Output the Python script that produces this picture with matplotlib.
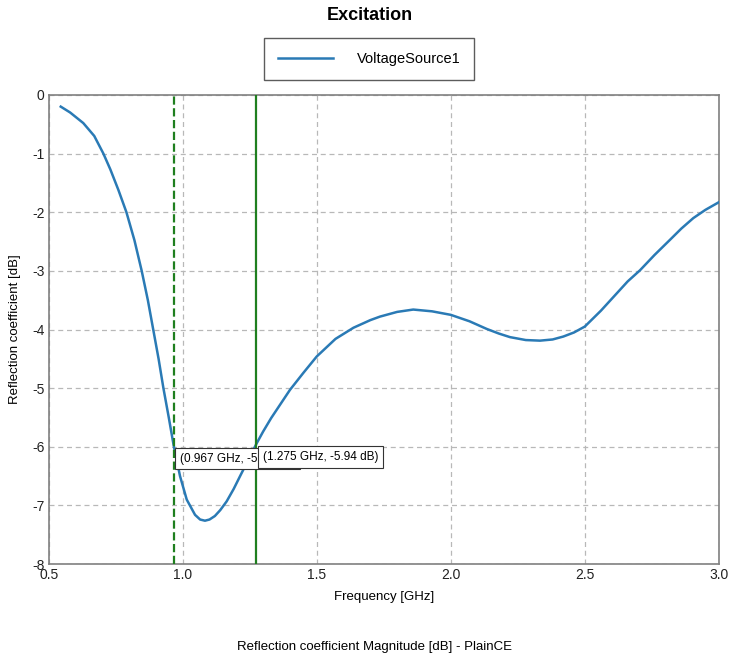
import matplotlib.pyplot as plt

plt.rcParams['font.family'] = ['Liberation Sans', 'DejaVu Sans']
plt.rcParams['axes.unicode_minus'] = False

# frequency [GHz] and reflection coefficient [dB]
freq = [0.545, 0.58, 0.629, 0.67, 0.704, 0.73, 0.76, 0.79, 0.82, 0.847,
        0.870, 0.890, 0.910, 0.928, 0.948, 0.966, 0.99, 1.015, 1.046, 1.065,
        1.083, 1.10, 1.12, 1.14, 1.164, 1.19, 1.214, 1.245, 1.276, 1.30,
        1.33, 1.40, 1.45, 1.5, 1.57, 1.637, 1.70, 1.736, 1.80, 1.86,
        1.93, 2.0, 2.07, 2.134, 2.18, 2.221, 2.28, 2.333, 2.38, 2.42,
        2.46, 2.5, 2.56, 2.62, 2.66, 2.706, 2.76, 2.818, 2.86, 2.905, 2.95, 3.0]
s11 = [-0.20, -0.30, -0.48, -0.70, -1.00, -1.27, -1.62, -2.00, -2.48, -3.00,
       -3.50, -4.00, -4.50, -5.00, -5.50, -5.97, -6.50, -6.90, -7.16, -7.24,
       -7.26, -7.24, -7.18, -7.08, -6.93, -6.72, -6.50, -6.22, -5.94, -5.74,
       -5.51, -5.03, -4.74, -4.46, -4.16, -3.97, -3.84, -3.78, -3.70, -3.66,
       -3.69, -3.75, -3.86, -3.99, -4.07, -4.13, -4.18, -4.19, -4.17, -4.12,
       -4.05, -3.95, -3.68, -3.38, -3.18, -2.99, -2.73, -2.47, -2.28, -2.10, -1.96, -1.83]

marker_f = [0.967, 1.275]
marker_db = [-5.97, -5.94]
marker_style = ['--', '-']

xticks = [0.5, 1.0, 1.5, 2.0, 2.5, 3.0]
yticks = [0, -1, -2, -3, -4, -5, -6, -7, -8]

fig = plt.figure(figsize=(7.32, 6.59), dpi=100)
ax = fig.add_axes([0.0665, 0.144, 0.9155, 0.712])

ax.plot(freq, s11, color='#2a7ab5', lw=1.8, label='VoltageSource1', zorder=3)

for f, ls in zip(marker_f, marker_style):
    ax.axvline(f, color='#1f7f1f', lw=1.6, ls=ls, zorder=4)

for f, db in zip(marker_f, marker_db):
    ax.annotate('(%.3f GHz, %.2f dB)' % (f, db), xy=(f, db), xytext=(4.5, -5.5),
                textcoords='offset points', ha='left', va='top', fontsize=8.5,
                bbox=dict(boxstyle='square,pad=0.4', fc='white', ec='#333333', lw=0.8),
                zorder=5)

ax.set_xlim(0.5, 3.0)
ax.set_ylim(-8, 0)
ax.set_xticks(xticks)
ax.set_xticklabels(['%.1f' % v for v in xticks])
ax.set_yticks(yticks)
ax.set_yticklabels([str(v) for v in yticks])
ax.tick_params(length=0, labelsize=10, pad=3, colors='#222222')
ax.grid(True, ls=(0, (4, 3)), color='#b8b8b8', lw=0.9)
for s in ax.spines.values():
    s.set_color('#808080')
    s.set_linewidth(1.2)

ax.set_xlabel('Frequency [GHz]', fontsize=9.5, labelpad=6)
ax.set_ylabel('Reflection coefficient [dB]', fontsize=9.5, labelpad=8)

fig.text(0.505, 0.977, 'Excitation', ha='center', va='center', fontsize=13, fontweight='bold')
ax.legend(loc='lower center', bbox_to_anchor=(0.478, 1.032), borderaxespad=0,
          frameon=True, fancybox=False, edgecolor='#333333', fontsize=10.5,
          handlelength=3.8, borderpad=0.95, handletextpad=1.6)
fig.text(0.512, 0.018, 'Reflection coefficient Magnitude [dB] - PlainCE', ha='center',
         va='center', fontsize=9.5)

fig.savefig('out.png', dpi=100)
